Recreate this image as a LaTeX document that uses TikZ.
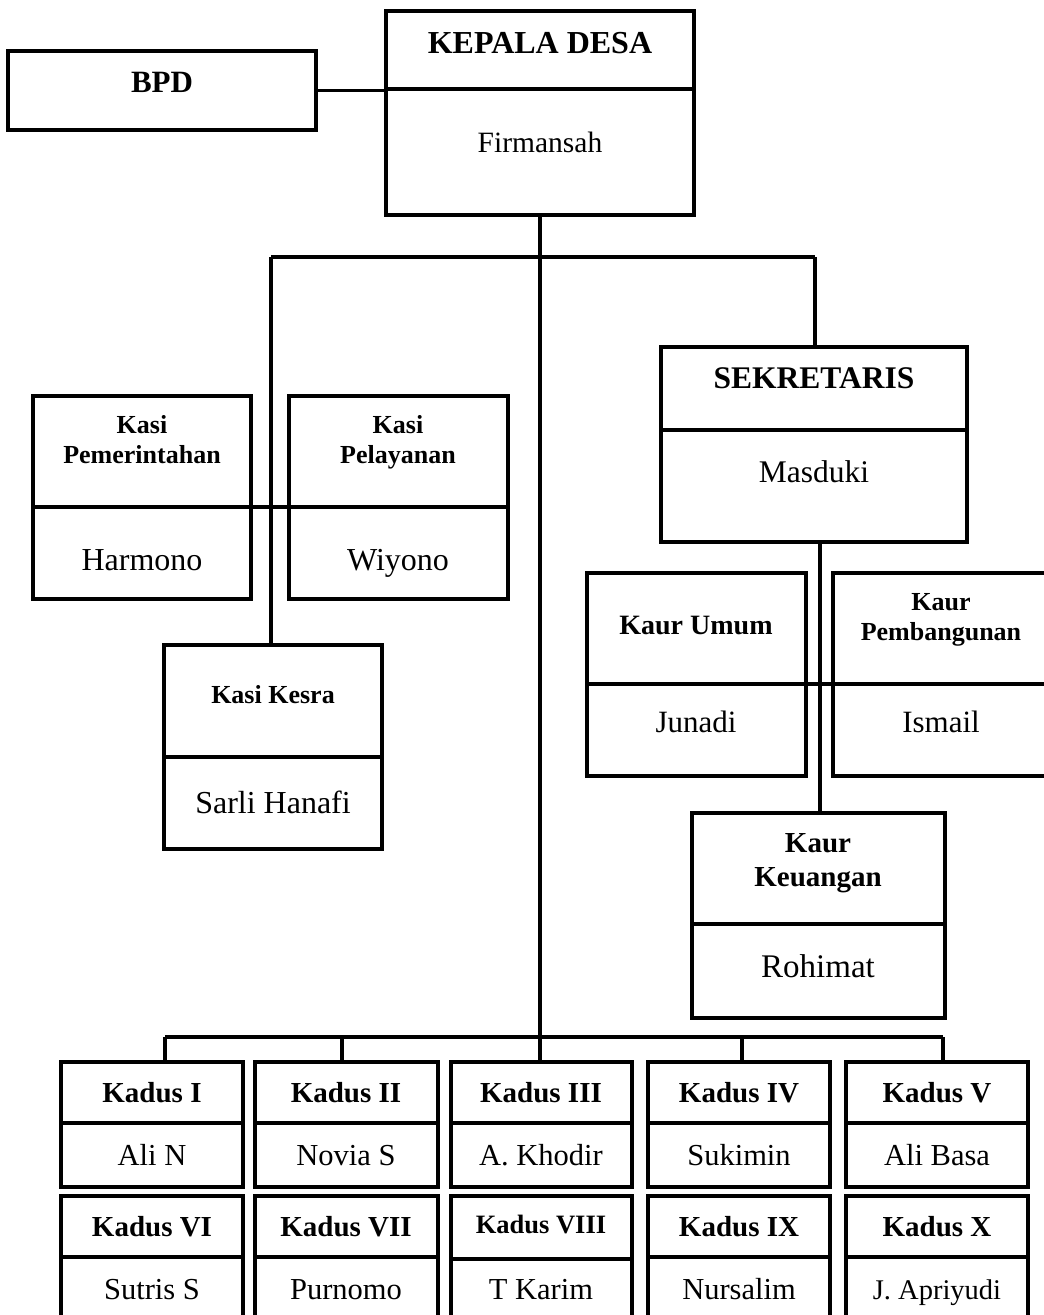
\documentclass[tikz,border=0pt]{standalone}
\usepackage{fontspec}
\setmainfont{Liberation Serif}
\newcommand{\fsz}[1]{\fontsize{#1}{#1}\selectfont}
\tikzset{
  orgbox/.style={draw, line width=3.5pt, inner sep=0pt, outer sep=0pt, line join=miter},
  link/.style={line width=3.5pt},
  ttl/.style={anchor=base, inner sep=0pt, font=\bfseries\fsz{#1}},
  ttl/.default=29,
  nm/.style={anchor=base, inner sep=0pt, font=\fsz{#1}},
  nm/.default=31,
}
% name, x1, y1, x2, ydiv, y2
\newcommand{\orgbox}[6]{%
  \node[orgbox, minimum width={(#4-#2)*1pt}, minimum height={(#6-#3)*1pt}] (#1) at ({(#2+#4)/2},{(#3+#6)/2}) {};
  \draw[link] (#2,#5) -- (#4,#5);
}
\begin{document}
\begin{tikzpicture}[x=1pt,y=-1pt]
\useasboundingbox (0,0) rectangle (1044,1315);

% top
\orgbox{bpd}{8}{51}{316}{51}{130}
\node[ttl=31] (bpdT) at (162,92) {BPD};
\orgbox{kd}{386}{11}{694}{89}{215}
\node[ttl=32] (kdT) at (540,53) {KEPALA DESA};
\node[nm=29.5] (kdN) at (540,152) {Firmansah};
\draw[link] (bpd.east) -- (bpd.east -| kd.west);

% kasi
\orgbox{kpem}{33}{396}{251}{507}{599}
\node[ttl=26] (kpemT1) at (142,433) {Kasi};
\node[ttl=26] (kpemT2) at (142,463) {Pemerintahan};
\node[nm=32] (kpemN) at (142,570) {Harmono};
\orgbox{kpel}{289}{396}{508}{507}{599}
\node[ttl=26] (kpelT1) at (398,433) {Kasi};
\node[ttl=26] (kpelT2) at (398,463) {Pelayanan};
\node[nm=32] (kpelN) at (398,570) {Wiyono};
\orgbox{kkes}{164}{645}{382}{757}{849}
\node[ttl=26] (kkesT) at (273,703) {Kasi Kesra};
\node[nm=32] (kkesN) at (273,813) {Sarli Hanafi};

% sekretaris
\orgbox{sek}{661}{347}{967}{430}{542}
\node[ttl=31.5] (sekT) at (814,388) {SEKRETARIS};
\node[nm=31.5] (sekN) at (814,482) {Masduki};
\orgbox{kum}{587}{573}{806}{684}{776}
\node[ttl=28] (kumT) at (696,634) {Kaur Umum};
\node[nm=31] (kumN) at (696,732) {Junadi};
\orgbox{kpb}{833}{573}{1050}{684}{776}
\node[ttl=26] (kpbT1) at (941,610) {Kaur};
\node[ttl=26] (kpbT2) at (941,640) {Pembangunan};
\node[nm=31] (kpbN) at (941,732) {Ismail};
\orgbox{kkeu}{692}{813}{945}{924}{1018}
\node[ttl=29] (kkeuT1) at (818,852) {Kaur};
\node[ttl=29] (kkeuT2) at (818,886) {Keuangan};
\node[nm=33] (kkeuN) at (818,977) {Rohimat};

% kadus row 1
\orgbox{kd1}{61}{1062}{243}{1123}{1187}
\node[ttl=29] (kd1T) at (152,1102) {Kadus I};
\node[nm=30.5] (kd1N) at (152,1165) {Ali N};
\orgbox{kd2}{255}{1062}{438}{1123}{1187}
\node[ttl=29] (kd2T) at (346,1102) {Kadus II};
\node[nm=30.5] (kd2N) at (346,1165) {Novia S};
\orgbox{kd3}{451}{1062}{632}{1123}{1187}
\node[ttl=29] (kd3T) at (541,1102) {Kadus III};
\node[nm=30.5] (kd3N) at (541,1165) {A. Khodir};
\orgbox{kd4}{648}{1062}{830}{1123}{1187}
\node[ttl=29] (kd4T) at (739,1102) {Kadus IV};
\node[nm=30.5] (kd4N) at (739,1165) {Sukimin};
\orgbox{kd5}{846}{1062}{1028}{1123}{1187}
\node[ttl=29] (kd5T) at (937,1102) {Kadus V};
\node[nm=30.5] (kd5N) at (937,1165) {Ali Basa};

% kadus row 2
\orgbox{kd6}{61}{1196}{243}{1257}{1330}
\node[ttl=29] (kd6T) at (152,1236) {Kadus VI};
\node[nm=30.5] (kd6N) at (152,1299) {Sutris S};
\orgbox{kd7}{255}{1196}{438}{1257}{1330}
\node[ttl=29] (kd7T) at (346,1236) {Kadus VII};
\node[nm=30.5] (kd7N) at (346,1299) {Purnomo};
\orgbox{kd8}{451}{1196}{632}{1259}{1330}
\node[ttl=26.5] (kd8T) at (541,1233) {Kadus VIII};
\node[nm=30.5] (kd8N) at (541,1299) {T Karim};
\orgbox{kd9}{648}{1196}{830}{1257}{1330}
\node[ttl=29] (kd9T) at (739,1236) {Kadus IX};
\node[nm=30.5] (kd9N) at (739,1299) {Nursalim};
\orgbox{kd10}{846}{1196}{1028}{1257}{1330}
\node[ttl=29] (kd10T) at (937,1236) {Kadus X};
\node[nm=28.5] (kd10N) at (937,1299) {J. Apriyudi};

% connectors
\coordinate (b1) at (271,257);
\coordinate (b2) at (815,257);
\coordinate (d1) at (165,1037);
\coordinate (d2) at (342,1037);
\coordinate (d3) at (540,1037);
\coordinate (d4) at (742,1037);
\coordinate (d5) at (943,1037);
\coordinate (sb) at (820,542);
\coordinate (kpemdiv) at (251,507);
\coordinate (kumdiv) at (806,684);

\draw[link] (kd.south) -- (d3) -- (d3 |- kd3.north);
\draw[link] (b1) -- (b2);
\draw[link] (b1) -- (b1 |- kkes.north);
\draw[link] (b2) -- (b2 |- sek.north);
\draw[link] (sb) -- (sb |- kkeu.north);
\draw[link] (kpemdiv) -- (kpemdiv -| kpel.west);
\draw[link] (kumdiv) -- (kumdiv -| kpb.west);
\draw[link] (d1) -- (d5);
\draw[link] (d1) -- (d1 |- kd1.north);
\draw[link] (d2) -- (d2 |- kd2.north);
\draw[link] (d4) -- (d4 |- kd4.north);
\draw[link] (d5) -- (d5 |- kd5.north);
\end{tikzpicture}
\end{document}
